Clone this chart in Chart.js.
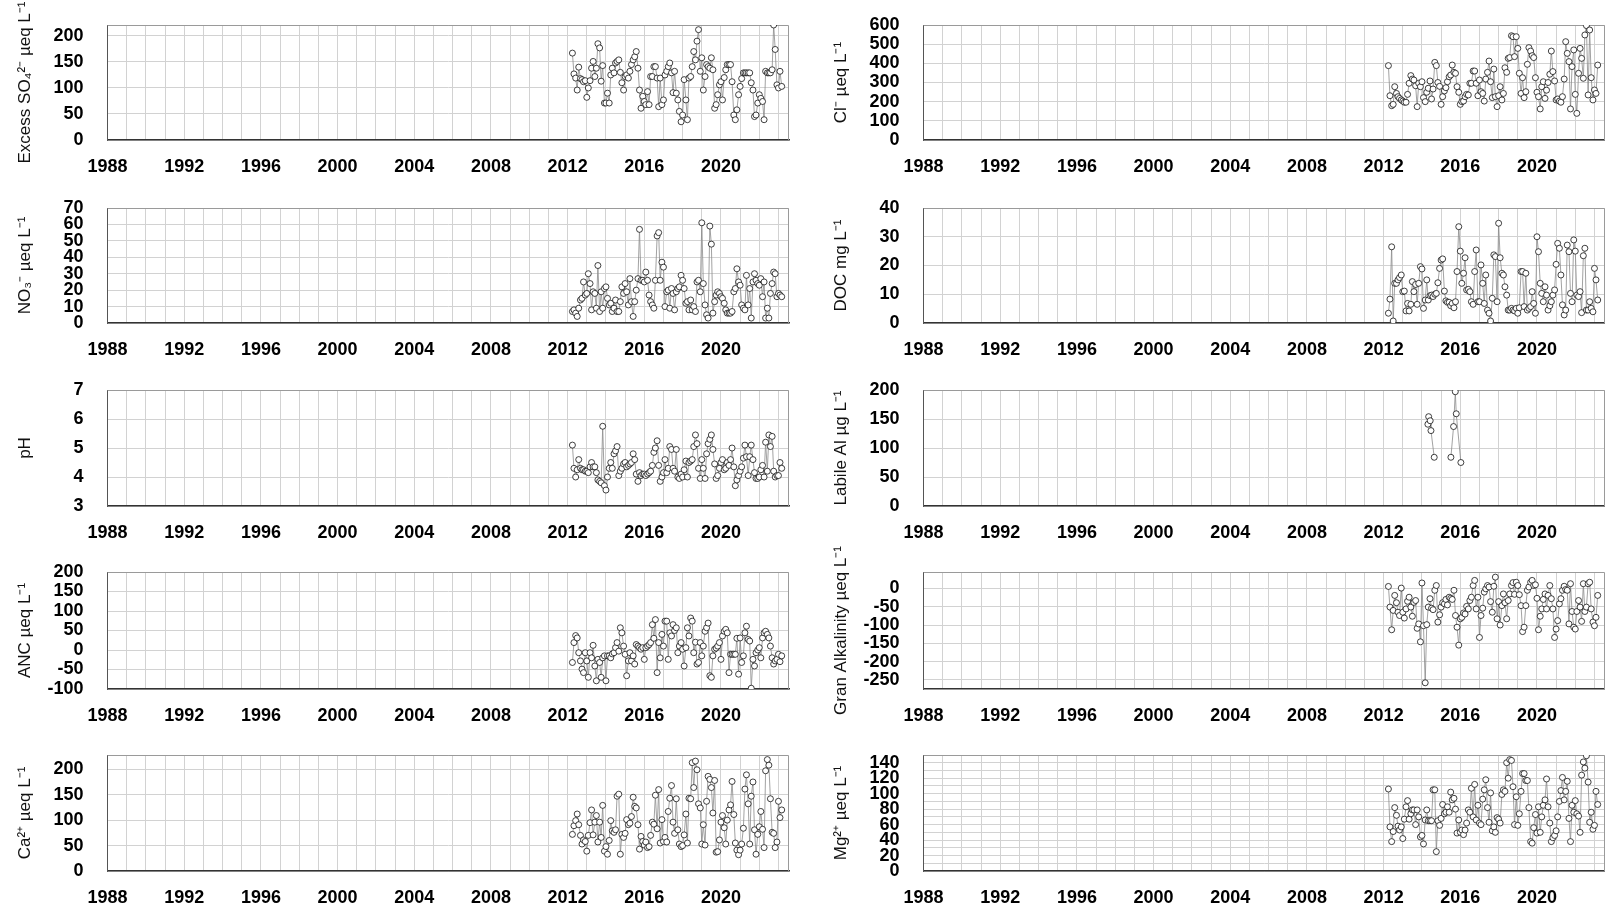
<!DOCTYPE html>
<html>
<head>
<meta charset="utf-8">
<script src="https://cdn.jsdelivr.net/npm/chart.js@4.4.1/dist/chart.umd.min.js"></script>
<style>
  html, body { margin:0; padding:0; background:#fff; width:1605px; height:907px; overflow:hidden; position:relative; }
  canvas { position:absolute; }
</style>
</head>
<body>
<script>
// monthly sampling dates (decimal years), Apr 2012 .. Mar 2023
const dates = [
  2012.25,2012.33,2012.42,2012.50,2012.58,2012.67,2012.75,2012.83,2012.92,
  2013.00,2013.08,2013.17,2013.25,2013.33,2013.42,2013.50,2013.58,2013.67,2013.75,2013.83,2013.92,
  2014.00,2014.08,2014.17,2014.25,2014.33,2014.42,2014.50,2014.58,2014.67,2014.75,2014.83,2014.92,
  2015.00,2015.08,2015.17,2015.25,2015.33,2015.42,2015.50,2015.58,2015.67,2015.75,2015.83,2015.92,
  2016.00,2016.08,2016.17,2016.25,2016.33,2016.42,2016.50,2016.58,2016.67,2016.75,2016.83,2016.92,
  2017.00,2017.08,2017.17,2017.25,2017.33,2017.42,2017.50,2017.58,2017.67,2017.75,2017.83,2017.92,
  2018.00,2018.08,2018.17,2018.25,2018.33,2018.42,2018.50,2018.58,2018.67,2018.75,2018.83,2018.92,
  2019.00,2019.08,2019.17,2019.25,2019.33,2019.42,2019.50,2019.58,2019.67,2019.75,2019.83,2019.92,
  2020.00,2020.08,2020.17,2020.25,2020.33,2020.42,2020.50,2020.58,2020.67,2020.75,2020.83,2020.92,
  2021.00,2021.08,2021.17,2021.25,2021.33,2021.42,2021.50,2021.58,2021.67,2021.75,2021.83,2021.92,
  2022.00,2022.08,2022.17,2022.25,2022.33,2022.42,2022.50,2022.58,2022.67,2022.75,2022.83,2022.92,
  2023.00,2023.08,2023.17
];

const yearLabels = [1988,1992,1996,2000,2004,2008,2012,2016,2020];

const so4 = [
  167,127,119,96,140,118,116,112,114,82,
  100,114,138,151,122,138,185,177,113,143,
  71,71,90,71,125,138,129,148,151,154,
  130,110,96,122,125,119,132,145,154,160,
  170,138,96,61,84,74,68,93,68,122,
  122,141,141,119,64,119,68,77,125,132,
  141,148,129,91,132,90,77,55,35,48,
  116,77,39,119,122,141,170,154,190,212,
  132,158,96,122,145,141,138,158,135,61,
  68,87,106,112,77,120,135,145,145,145,
  112,48,39,58,87,103,118,129,129,129,
  129,129,110,96,45,48,71,87,80,74,
  39,132,129,129,129,135,221,174,106,100,132,103
];

const no3 = [
  7,8,6,4,9,14,15,25,17,18,
  30,24,8,19,18,9,35,7,19,9,
  21,22,15,11,12,7,9,14,7,7,
  13,22,18,24,19,11,27,13,4,13,
  20,27,57,26,26,25,31,26,17,13,
  11,9,26,53,55,26,37,34,10,19,
  20,9,21,18,8,19,21,22,29,26,
  21,12,13,8,14,8,10,7,25,26,
  19,61,24,11,5,3,59,48,6,13,
  17,19,18,16,15,12,8,6,6,6,
  7,19,21,33,25,23,11,9,8,29,
  11,21,3,25,30,26,24,23,27,16,
  25,3,9,3,18,24,31,30,16,18,17,16
];

const ph = [
  5.1,4.3,4.0,4.25,4.6,4.3,4.25,4.25,4.2,4.2,4.15,4.35,
  4.5,4.35,4.35,4.15,3.9,3.85,3.8,5.75,3.7,3.55,4.0,4.3,
  4.5,4.3,4.8,4.9,5.05,4.05,4.2,4.3,4.45,4.5,4.35,4.4,4.45,
  4.5,4.8,4.6,4.1,3.85,4.15,4.05,4.1,4.1,4.05,4.1,4.15,4.2,
  4.4,4.85,5.0,5.25,4.4,3.85,4.0,4.15,4.6,4.15,4.3,5.05,
  4.95,4.3,4.2,4.95,4.0,3.95,4.1,4.0,4.25,4.55,4.0,4.5,4.55,
  4.6,5.05,5.45,5.15,4.3,3.95,4.6,4.3,3.95,4.8,5.15,5.3,5.45,
  4.95,4.45,3.95,4.05,4.3,4.5,4.6,4.25,4.3,4.5,4.4,4.6,
  5.0,4.35,3.7,3.9,4.05,4.2,4.35,4.65,5.1,4.7,4.05,4.7,
  5.1,4.6,4.15,3.95,3.95,4.0,4.25,4.4,4.0,5.2,4.2,5.45,5.05,
  5.4,4.2,4.0,4.05,4.05,4.5,4.3
];

const anc = [
  -32,19,37,31,-7,-28,-49,-58,-7,-28,-70,-7,-20,
  12,-41,-79,-24,-32,-70,-20,-15,-79,-15,-15,-20,-10,
  -7,6,19,-3,57,44,10,-11,-66,-28,-7,-28,-15,
  -36,14,10,6,2,6,-24,6,10,14,19,65,30,
  78,-58,19,-20,40,10,74,74,-24,44,36,65,50,
  57,-7,10,19,2,-41,6,57,36,82,74,-7,20,
  -36,-32,19,-15,10,48,57,69,-66,-70,-15,2,5,
  10,19,-24,36,48,53,44,-58,-11,-11,-11,-11,30,
  -62,31,-32,-15,44,61,27,23,-98,-24,-41,-7,0,
  6,-20,31,44,48,40,31,10,-20,-36,-28,-24,-11,-30,-15
];

const ca = [
  72,89,99,112,91,70,53,61,58,39,
  70,95,120,71,96,109,57,96,66,129,
  39,48,33,60,
  99,79,76,81,147,151,33,
  72,66,74,101,91,94,107,145,127,124,
  91,43,68,58,51,57,46,48,70,96,
  92,149,83,160,55,101,58,66,57,117,
  143,168,96,74,142,81,53,48,50,71,
  112,55,143,142,213,164,216,199,132,124,
  53,91,51,137,186,180,164,114,178,37,
  38,61,96,109,85,53,100,120,
  130,176,111,55,41,32,41,53,84,161,189,132,53,147,175,
  81,33,72,87,117,82,46,197,219,208,142,76,74,46,57,137,105,120
];

const cl = [
  388,231,179,186,278,243,226,217,209,203,
  197,197,238,296,336,318,313,283,174,296,
  278,304,221,200,249,270,308,214,266,405,
  388,300,280,
  186,226,256,273,304,330,339,391,353,
  348,278,249,186,200,203,226,238,235,296,
  296,360,360,296,231,313,252,243,203,318,
  353,412,304,221,370,226,174,231,278,209,
  243,377,353,426,430,544,539,435,539,478,
  348,243,325,221,252,395,482,464,440,430,
  325,249,226,162,278,304,217,260,300,
  343,464,357,
  308,209,214,203,197,226,318,513,452,409,
  162,383,470,238,139,348,478,426,322,548,
  597,235,574,325,209,261,243,391,440
];

const doc = [
  3.4,8.3,26.5,0.7,13.8,13.8,15,15.8,16.7,10.9,
  11.1,4.2,6.8,4.2,6.5,14.4,10.9,13.4,6.5,13.8,
  19.6,18.8,5.1,8,15,8,9.5,9.7,9.2,10,
  10.3,14,19,
  21.9,22.3,11.1,7.7,7.2,7.2,6,6.8,5.3,
  7.4,17.9,33.5,25,13.8,17.3,22.7,11.5,11.7,10.9,
  7.4,6.5,17.9,25.4,7.4,7.4,20.2,13.8,6.8,16.7,
  4.5,3.4,0.7,8.6,23.7,23.1,7.4,34.7,22.7,17.3,
  16.7,12.6,9.7,4.5,4.5,5.1,4.5,4.2,5.1,3.4,
  5.3,17.9,17.9,5.7,17.3,4.5,5.1,5.7,10.9,6.8,
  3.4,30,24.8,13.8,10.3,7.4,12.6,9.7,4.5,6,
  7.4,
  9.7,11.5,20.4,27.7,26,16.7,6.3,2.8,4.5,27.1,
  24.8,10.3,7.4,28.9,25,9.7,9.2,10.9,3.6,23.4,
  26,4.5,4.5,7.4,5.1,3.9,19,15,8
];

// labile Al: only a few samples, null = gap in the line
const alDates = [2014.31,2014.35,2014.43,2014.47,2014.64,2015.0,2015.51,2015.65,2015.74,2015.79,2016.03];
const al = [141,154,147,130,84,null,84,137,197,159,75];

const gran = [
  5.5,-51,-113,-60,-19,-39,-65,-74,1,-65,
  -81,-56,-35,-24,-51,-76,-38,-33,-109,-97,
  -146,15,-102,-258,-99,-51,-28,-54,-58,-5,
  8,-92,-72,-51,-39,-42,-30,-45,-24,-27,
  -30,-5,-74,-106,-155,-83,-79,-67,-70,-49,
  -56,-33,-24,8,22,-56,-24,-134,-74,-54,
  -10,-1,8,4,-36,-65,6,31,-83,-36,
  -100,-47,-15,-39,-83,-33,-15,8,16,-16,
  17,8,-17,-47,-118,-106,-47,-5,4,17,
  22,8,10,-27,-113,-76,-56,-30,-15,-56,
  -19,8,-28,-56,-134,-111,-88,-42,-28,
  -5,6,-3,-5,-97,13,-63,-106,-111,-63,
  -33,-51,-90,13,-63,-51,13,17,-56,-92,
  -102,-79,-19
];

const mg = [
  106,57,38,51,82,72,58,53,57,42,
  67,83,91,67,74,79,79,60,79,70,
  44,46,35,66,79,65,65,65,105,105,
  25,65,59,68,86,74,76,83,76,102,
  92,94,80,49,66,50,53,47,53,62,
  79,76,107,70,112,66,85,62,60,93,
  105,118,82,63,101,52,57,50,69,67,
  62,99,105,103,140,120,144,143,109,60,
  96,59,74,103,126,126,117,117,82,38,
  36,56,73,49,83,50,70,85,
  92,119,83,62,38,43,46,52,70,90,
  104,121,92,103,116,68,38,85,76,91,74,71,50,124,141,133,149,115,63,76,54,59,103,86
];

// plot area placement
const rowTop = [25, 208, 390, 572, 755];
const rowBottom = [140, 323, 506, 689, 871];
const plotLeft = [107.6, 923.3];
const CW = 800;

const panels = [
  {col:0,row:0,title:'Excess SO\u2084\u00B2\u207B \u00B5eq L\u207B\u00B9',xs:dates,ys:so4,min:0,max:221,step:50},
  {col:1,row:0,title:'Cl\u207B \u00B5eq L\u207B\u00B9',xs:dates,ys:cl,min:0,max:600,step:100},
  {col:0,row:1,title:'NO\u2083\u207B \u00B5eq L\u207B\u00B9',xs:dates,ys:no3,min:0,max:70,step:10},
  {col:1,row:1,title:'DOC mg L\u207B\u00B9',xs:dates,ys:doc,min:0,max:40,step:10},
  {col:0,row:2,title:'pH',xs:dates,ys:ph,min:3,max:7,step:1},
  {col:1,row:2,title:'Labile Al \u00B5g L\u207B\u00B9',xs:alDates,ys:al,min:0,max:200,step:50},
  {col:0,row:3,title:'ANC \u00B5eq L\u207B\u00B9',xs:dates,ys:anc,min:-100,max:200,step:50},
  {col:1,row:3,title:'Gran Alkalinity \u00B5eq L\u207B\u00B9',xs:dates,ys:gran,min:-275,max:45,step:50},
  {col:0,row:4,title:'Ca\u00B2\u207A \u00B5eq L\u207B\u00B9',xs:dates,ys:ca,min:0,max:228,step:50},
  {col:1,row:4,title:'Mg\u00B2\u207A \u00B5eq L\u207B\u00B9',xs:dates,ys:mg,min:0,max:150,step:10,labelEvery:20}
];

const FONT = "'Liberation Sans', Arial, sans-serif";
const GRID = '#d2d2d2';

// light frame on top and right of the plot area
const framePlugin = {
  id: 'frame',
  beforeDatasetsDraw(chart){
    const {ctx, chartArea:a} = chart;
    ctx.save();
    ctx.strokeStyle = '#9a9a9a';
    ctx.lineWidth = 1;
    ctx.beginPath();
    ctx.moveTo(a.left, a.top + 0.5);
    ctx.lineTo(a.right - 0.5, a.top + 0.5);
    ctx.lineTo(a.right - 0.5, a.bottom);
    ctx.stroke();
    ctx.restore();
  }
};

function build(cv, p, h){
  cv.width = CW; cv.height = h;
  cv.style.width = CW + 'px'; cv.style.height = h + 'px';
  const pts = p.xs.map((x, i) => ({x, y: p.ys[i]}));
  return new Chart(cv, {
    type: 'line',
    data: { datasets: [{
      data: pts,
      borderColor: '#8a8a8a',
      borderWidth: 0.8,
      pointRadius: 3,
      pointBorderWidth: 0.8,
      pointBorderColor: '#111',
      pointBackgroundColor: '#fff',
      tension: 0,
      spanGaps: false
    }]},
    options: {
      responsive: false,
      maintainAspectRatio: false,
      animation: false,
      events: [],
      layout: { padding: { top: 40, right: 11, left: 0, bottom: 0 } },
      plugins: { legend: {display:false}, tooltip: {enabled:false} },
      scales: {
        x: {
          type: 'linear', min: 1988, max: 2023.55,
          afterFit: s => { s.height = 45; },
          ticks: {
            stepSize: 1, includeBounds: false, autoSkip: false, maxRotation: 0, padding: 16,
            color: '#000', font: {family: FONT, size: 18, weight: 'bold'},
            callback: v => yearLabels.includes(v) ? String(v) : ''
          },
          grid: { color: GRID, lineWidth: 1, drawTicks: false },
          border: { color: '#333', width: 1.6 }
        },
        y: {
          min: p.min, max: p.max,
          afterFit: s => { s.width = 107.6; },
          ticks: {
            stepSize: p.step, includeBounds: false, autoSkip: false, padding: 24,
            color: '#000', font: {family: FONT, size: 18, weight: 'bold'},
            callback: v => (p.labelEvery && v % p.labelEvery !== 0) ? '' : String(v)
          },
          grid: { color: GRID, lineWidth: 1, drawTicks: false },
          border: { color: '#555', width: 1 },
          title: {
            display: true, text: p.title, color: '#111',
            font: {family: FONT, size: 17},
            padding: {top: 15, bottom: 0}
          }
        }
      }
    },
    plugins: [framePlugin]
  });
}

panels.forEach(p => {
  const wantH = rowBottom[p.row] - rowTop[p.row];
  const cv = document.createElement('canvas');
  document.body.appendChild(cv);
  let h = wantH + 40 + 45;
  let chart = build(cv, p, h);
  const got = chart.chartArea.bottom - chart.chartArea.top;
  if (Math.abs(got - wantH) > 0.2) {
    chart.destroy();
    h = h + (wantH - got);
    chart = build(cv, p, h);
  }
  const a = chart.chartArea;
  cv.style.top = (rowTop[p.row] - a.top) + 'px';
  cv.style.left = (plotLeft[p.col] - a.left) + 'px';
});
</script>
</body>
</html>
